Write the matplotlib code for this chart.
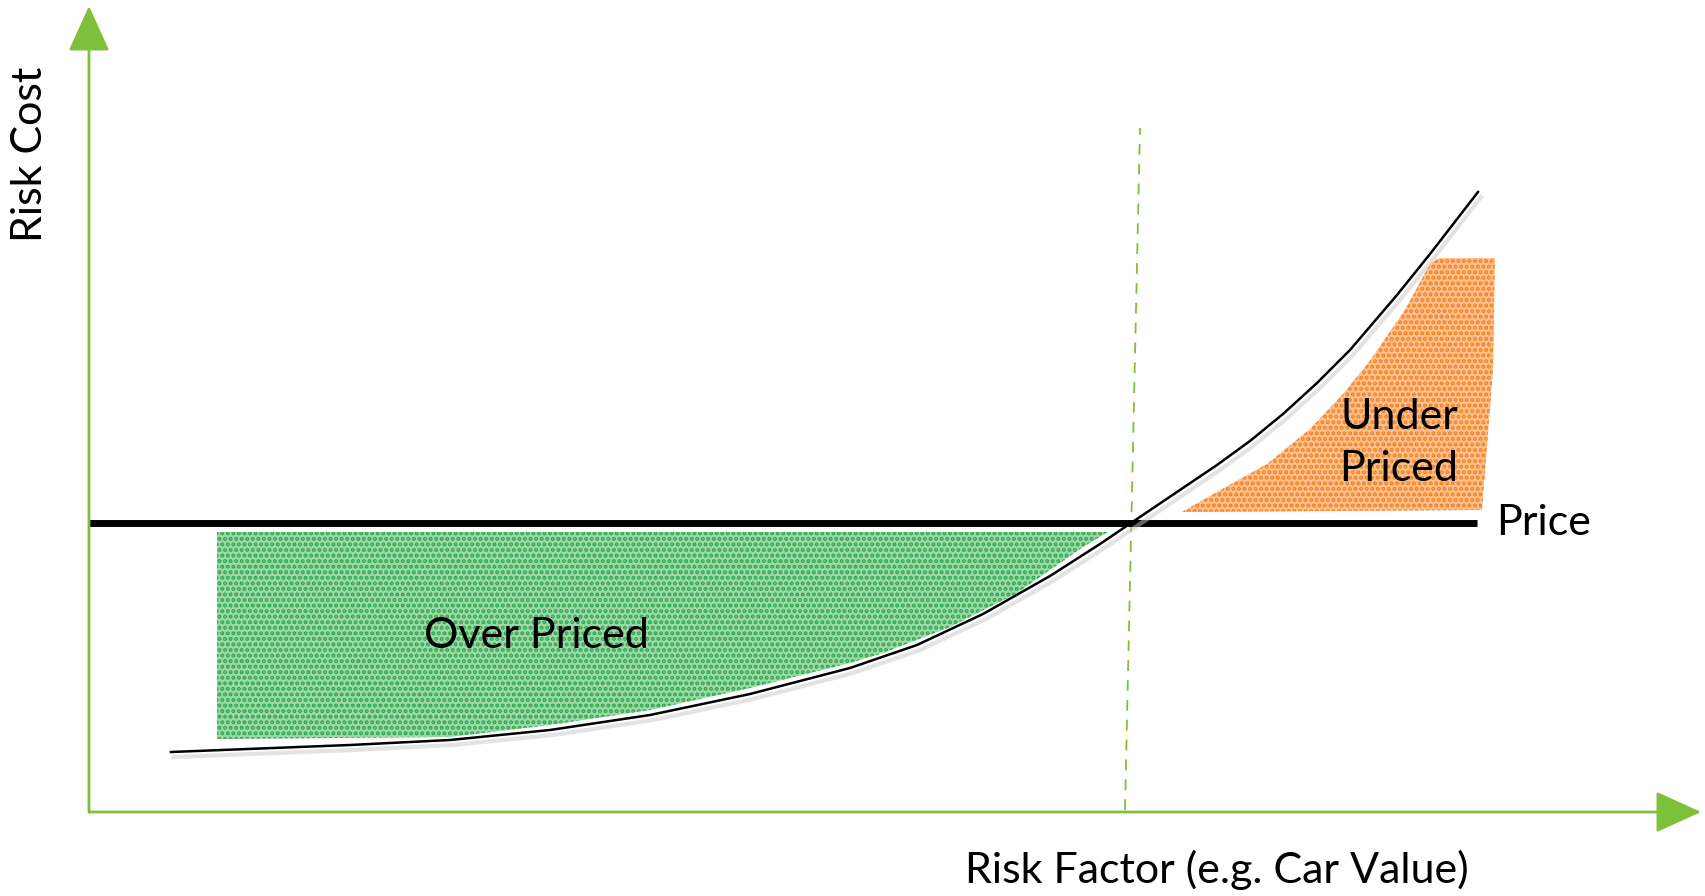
import numpy as np
import matplotlib
matplotlib.use("Agg")
from matplotlib import pyplot as plt

plt.rcParams['font.family'] = ['Lato', 'DejaVu Sans']
plt.rcParams['hatch.linewidth'] = 2.0

# risk cost curve (arbitrary units, origin at the axes corner)
curve_x = [82, 261, 361, 461, 561, 661, 761, 828, 894, 961, 1011, 1042, 1085, 1128,
           1161, 1194, 1228, 1261, 1308, 1341, 1389]
curve_y = [60, 67, 72, 82, 97, 118, 144, 167, 198, 236, 268, 289, 318, 347,
           371, 398, 429, 462, 517, 558, 620]

price_level = 289
price_end = 1388
breakeven_x = [1036, 1051]
breakeven_y = [2, 684]

# shaded regions
over_x = [128, 1019, 994, 928, 861, 794, 761, 661, 561, 461, 361, 128]
over_y = [280, 280, 265, 219, 185, 159, 149, 124, 102, 87, 75, 73]
under_x = [1093, 1128, 1178, 1221, 1254, 1280, 1316, 1341, 1350, 1406, 1404, 1393]
under_y = [300, 320, 348, 383, 418, 450, 502, 548, 554, 554, 442, 302]

lime = '#7DC13A'
green = '#2DAA4B'
orange = '#F58220'

fig = plt.figure(figsize=(17.05, 8.96), dpi=100)
ax = fig.add_axes([0, 0, 1, 1])
ax.set_xlim(-89, 1616)
ax.set_ylim(-84, 812)
ax.axis('off')

# shaded areas (stippled look)
ax.fill(over_x, over_y, facecolor='#9ED8AA', edgecolor=green, hatch='...', linewidth=0)
ax.fill(under_x, under_y, facecolor='#FBC08F', edgecolor=orange, hatch='...', linewidth=0)

# axes with arrows
arrow = dict(arrowstyle='-|>,head_length=1.1,head_width=0.5', color=lime, lw=2,
             mutation_scale=26, shrinkA=0, shrinkB=0)
ax.annotate('', xy=(0, 806), xytext=(0, 0), arrowprops=arrow)
ax.annotate('', xy=(1612, 0), xytext=(0, 0), arrowprops=arrow)

# break-even marker
ax.plot(breakeven_x, breakeven_y, color=lime, lw=1.3, ls=(0, (6, 5)))

# price line
ax.plot([0, price_end], [price_level, price_level], color='black', lw=5, solid_capstyle='butt')

# risk cost curve with a soft shadow
ax.plot(np.array(curve_x) + 3, np.array(curve_y) - 5, color='#c8c8c8', lw=3, alpha=0.5)
ax.plot(curve_x, curve_y, color='black', lw=1.8)

ax.text(-59, 658, 'Risk Cost', rotation=90, fontsize=31, ha='center', va='center')
ax.text(1128, -58, 'Risk Factor (e.g. Car Value)', fontsize=31, ha='center', va='center')
ax.text(1407, price_level, 'Price', fontsize=31, ha='left', va='center')
ax.text(447, 176, 'Over Priced', fontsize=31, ha='center', va='center')
ax.text(1310, 369, 'Under\nPriced', fontsize=31, ha='center', va='center', linespacing=1.45)

fig.savefig('out.png', dpi=100)
